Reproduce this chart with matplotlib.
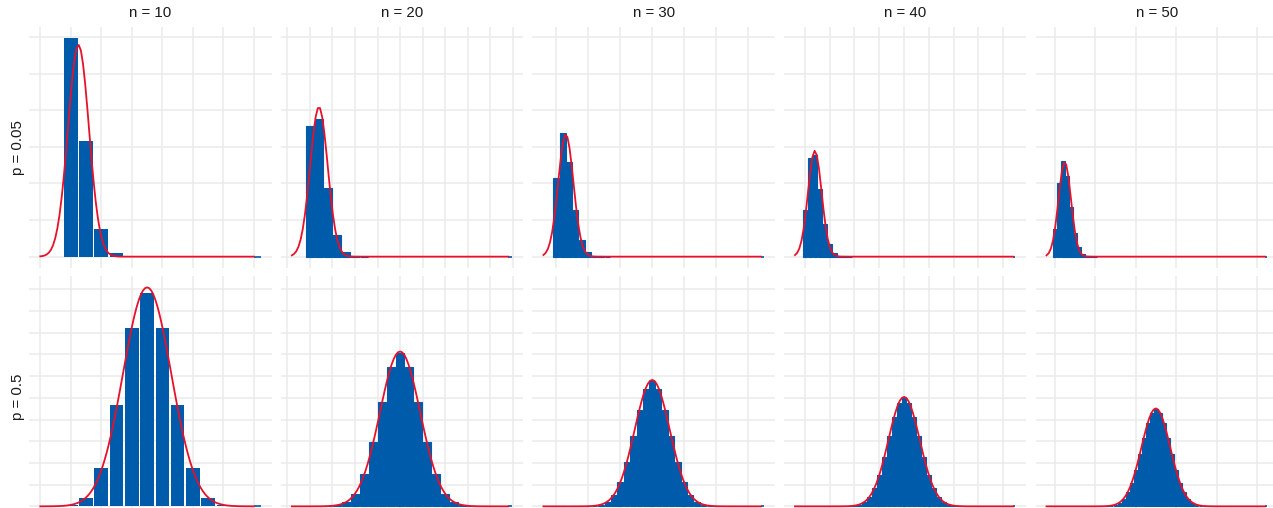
"""
============================================
Binomial vs Normal approximation
Facet grid: p (rows) x n (columns)
============================================
"""

import numpy as np
import matplotlib.pyplot as plt

# -----------------------------
# Data
# -----------------------------
n_values = [10, 20, 30, 40, 50]
p_values = [0.05, 0.5]

col_titles = ["n = 10", "n = 20", "n = 30", "n = 40", "n = 50"]
row_titles = ["p = 0.05", "p = 0.5"]

# binomial probabilities, first k given by the *_start value
bars_p005_n10 = [0.5987, 0.3151, 0.0746, 0.0105, 0.0010, 0.0001]
bars_p005_n20 = [0.3585, 0.3774, 0.1887, 0.0596, 0.0133, 0.0022, 0.0003]
bars_p005_n30 = [0.2146, 0.3389, 0.2586, 0.1270, 0.0451, 0.0124, 0.0027, 0.0005, 0.0001]
bars_p005_n40 = [0.1285, 0.2706, 0.2777, 0.1851, 0.0901, 0.0342, 0.0105, 0.0027,
                 0.0006, 0.0001]
bars_p005_n50 = [0.0769, 0.2025, 0.2611, 0.2199, 0.1360, 0.0658, 0.0260, 0.0086,
                 0.0024, 0.0006, 0.0001]

bars_p05_n10 = [0.0010, 0.0098, 0.0439, 0.1172, 0.2051, 0.2461, 0.2051, 0.1172,
                0.0439, 0.0098, 0.0010]
bars_p05_n20 = [0.0002, 0.0011, 0.0046, 0.0148, 0.0370, 0.0739, 0.1201, 0.1602,
                0.1762, 0.1602, 0.1201, 0.0739, 0.0370, 0.0148, 0.0046, 0.0011,
                0.0002]
bars_p05_n30 = [0.0001, 0.0006, 0.0019, 0.0055, 0.0133, 0.0280, 0.0509, 0.0806,
                0.1115, 0.1354, 0.1445, 0.1354, 0.1115, 0.0806, 0.0509, 0.0280,
                0.0133, 0.0055, 0.0019, 0.0006, 0.0001]
bars_p05_n40 = [0.0002, 0.0008, 0.0021, 0.0051, 0.0109, 0.0211, 0.0366, 0.0572,
                0.0807, 0.1031, 0.1194, 0.1254, 0.1194, 0.1031, 0.0807, 0.0572,
                0.0366, 0.0211, 0.0109, 0.0051, 0.0021, 0.0008, 0.0002]
bars_p05_n50 = [0.0003, 0.0008, 0.0020, 0.0044, 0.0087, 0.0160, 0.0270, 0.0419,
                0.0598, 0.0788, 0.0960, 0.1080, 0.1123, 0.1080, 0.0960, 0.0788,
                0.0598, 0.0419, 0.0270, 0.0160, 0.0087, 0.0044, 0.0020, 0.0008,
                0.0003]

bars_p005 = [bars_p005_n10, bars_p005_n20, bars_p005_n30, bars_p005_n40, bars_p005_n50]
bars_p05 = [bars_p05_n10, bars_p05_n20, bars_p05_n30, bars_p05_n40, bars_p05_n50]
start_p005 = [0, 0, 0, 0, 0]
start_p05 = [0, 2, 5, 9, 13]

all_bars = [bars_p005, bars_p05]
all_starts = [start_p005, start_p05]

# grid spacing per column (x) and per row (y)
x_grid_step = [2, 2.5, 5, 5, 10]
y_grid_step = [0.1, 0.025]

# bar outline per column: the wide n = 10 bars keep their white gaps,
# the narrow ones render as a solid block
bar_edge_lw = [0, 0.8, 0.8, 0.8, 0.8]

BLUE = "#005BAA"
RED = "#E8102A"
GRID = "#EBEBEB"
TEXT = "#1A1A1A"

plt.rcParams["font.family"] = ["Liberation Sans", "DejaVu Sans"]

W, H = 1273, 508
fig = plt.figure(figsize=(W / 100, H / 100), dpi=100)

# -----------------------------
# Panel layout (pixels)
# -----------------------------
left0 = 29.3
col_pitch = 251.55
panel_w = 242.5
top0 = 26.7
row_pitch = 249.7
panel_h = 240.9

bar_width = 0.9


def normal_pdf(x, mu, sd):
    return np.exp(-0.5 * ((x - mu) / sd) ** 2) / (sd * np.sqrt(2 * np.pi))


# y range per row (shared across columns)
row_ymax = []
for r, p in enumerate(p_values):
    peak = 0
    for c, n in enumerate(n_values):
        sd = np.sqrt(n * p * (1 - p))
        peak = max(peak, max(all_bars[r][c]), normal_pdf(n * p, n * p, sd))
    row_ymax.append(peak)

for r, p in enumerate(p_values):
    for c, n in enumerate(n_values):

        left = left0 + c * col_pitch
        top = top0 + r * row_pitch
        ax = fig.add_axes([left / W, 1 - (top + panel_h) / H, panel_w / W, panel_h / H])

        # -----------------------------
        # Bars
        # -----------------------------
        heights = all_bars[r][c]
        ks = np.arange(len(heights)) + all_starts[r][c]
        ax.bar(ks, heights, width=bar_width, color=BLUE, edgecolor=BLUE,
               linewidth=bar_edge_lw[c], zorder=2)

        # zero bar at the far right that peeks out past the curve
        x_hi = n + 2
        ax.plot([x_hi, x_hi + bar_width / 2], [0, 0], color=BLUE, lw=1.2,
                solid_capstyle="butt", zorder=2)

        # -----------------------------
        # Normal curve
        # -----------------------------
        mu = n * p
        sd = np.sqrt(n * p * (1 - p))
        xs = np.linspace(-2, x_hi, 101)
        ax.plot(xs, normal_pdf(xs, mu, sd), color=RED, lw=1.3, zorder=3)

        # -----------------------------
        # Axes limits (5% expansion like ggplot)
        # -----------------------------
        x_min, x_max = -2, x_hi + bar_width / 2
        pad = 0.05 * (x_max - x_min)
        ax.set_xlim(x_min - pad, x_max + pad)

        y_max = row_ymax[r]
        ax.set_ylim(-0.05 * y_max, 1.05 * y_max)

        # -----------------------------
        # Grid
        # -----------------------------
        step = x_grid_step[c]
        gx = np.arange(np.ceil((x_min - pad) / step) * step, x_max + pad, step)
        ax.set_xticks(gx)
        ystep = y_grid_step[r]
        gy = np.arange(0, 1.05 * y_max, ystep)
        ax.set_yticks(gy)
        ax.grid(True, color=GRID, lw=1.1)
        ax.set_axisbelow(True)
        ax.tick_params(length=0, labelbottom=False, labelleft=False)
        for s in ax.spines.values():
            s.set_visible(False)

# -----------------------------
# Strip labels
# -----------------------------
for c, title in enumerate(col_titles):
    cx = left0 + c * col_pitch + panel_w / 2
    fig.text(cx / W, 1 - 13.3 / H, title, ha="center", va="center",
             fontsize=10.8, color=TEXT)

for r, title in enumerate(row_titles):
    cy = top0 + r * row_pitch + panel_h / 2
    fig.text(18.3 / W, 1 - cy / H, title, ha="center", va="center",
             rotation=90, fontsize=10.8, color=TEXT)

fig.savefig("out.png", dpi=100)
